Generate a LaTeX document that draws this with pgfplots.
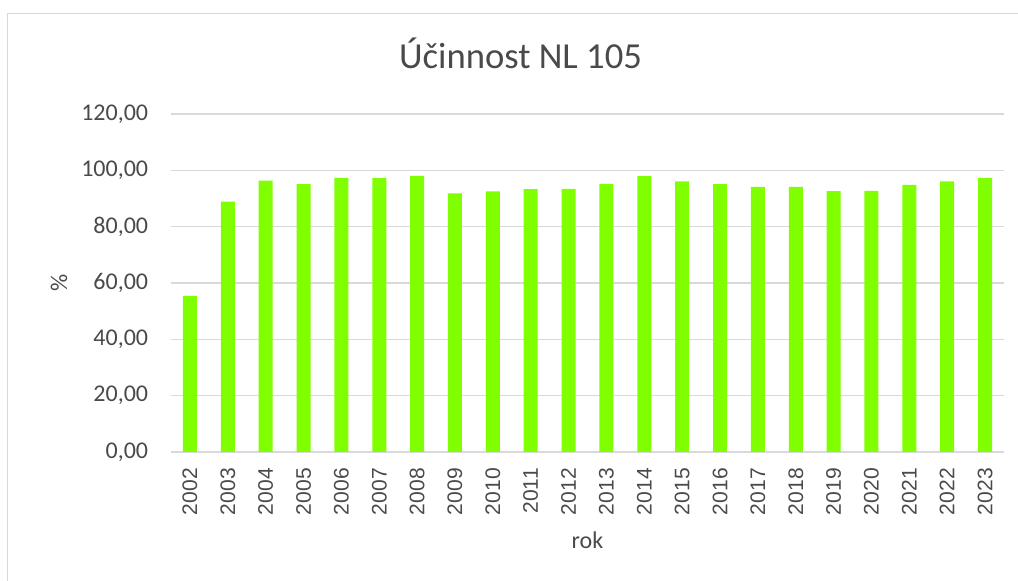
\documentclass[border=0pt]{standalone}
\usepackage{pgfplots}
\pgfplotsset{compat=1.18}
\usepackage{fontspec}
\setmainfont{Carlito}
\newfontfamily\arialf{Liberation Sans}
\definecolor{txt}{HTML}{4A4A4A}
\definecolor{gridc}{HTML}{D9D9D9}
\definecolor{barc}{HTML}{80FF00}
\begin{document}
\begin{tikzpicture}
\useasboundingbox (0,0) rectangle (763.5pt,435.75pt);
\draw[gridc, line width=1.1pt] (5.6pt,0) -- (5.6pt,425.6pt) -- (763.5pt,425.6pt);
\node[anchor=base, text=txt, font=\fontsize{27.5}{30}\selectfont, inner sep=0pt] at (390.4pt,384pt) {Účinnost NL 105};
\begin{axis}[
  at={(128.25pt,96.75pt)}, anchor=south west,
  scale only axis, width=624.75pt, height=253.5pt,
  xmin=-0.5, xmax=21.5, ymin=0, ymax=120,
  ytick={0,20,...,120},
  xtick={0,...,21},
  xticklabels={2002,2003,2004,2005,2006,2007,2008,2009,2010,2011,2012,2013,2014,2015,2016,2017,2018,2019,2020,2021,2022,2023},
  axis line style={draw=none},
  major tick length=0pt,
  ymajorgrids, xmajorgrids=false,
  grid style={draw=gridc, line width=1.1pt},
  /pgf/number format/.cd, use comma, fixed, fixed zerofill, precision=2, 1000 sep={}, assume math mode=true,
  /pgfplots/.cd,
  yticklabel style={anchor=east, inner sep=0pt, xshift=-17pt, text=txt, font=\fontsize{18}{20}\selectfont},
  xticklabel style={rotate=90, anchor=east, inner sep=0pt, xshift=-12pt, text=txt, font=\arialf\fontsize{15.8}{17}\selectfont},
  ylabel={\%}, ylabel style={at={(axis description cs:0,0.5)}, anchor=center, yshift=84pt, text=txt, font=\fontsize{18}{20}\selectfont},
  xlabel={rok}, xlabel style={at={(axis description cs:0.5,0)}, anchor=center, yshift=-66pt, text=txt, font=\fontsize{18}{20}\selectfont},
]
\addplot[ybar, bar width=10.5pt, fill=barc, draw=none] coordinates {
(0,55.4) (1,88.9) (2,96.3) (3,95.1) (4,97.3) (5,97.2) (6,98.0) (7,91.8) (8,92.5) (9,93.3) (10,93.4)
(11,95.2) (12,97.9) (13,96.1) (14,95.1) (15,94.1) (16,94.1) (17,92.6) (18,92.7) (19,94.8) (20,96.1) (21,97.3)
};
\end{axis}
\end{tikzpicture}
\end{document}
